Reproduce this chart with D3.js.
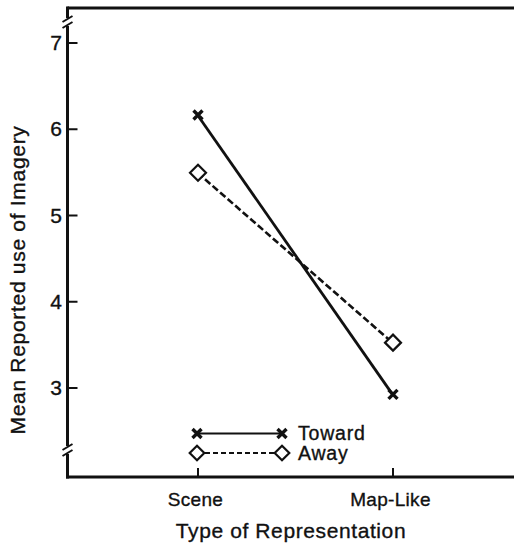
<!DOCTYPE html>
<html><head><meta charset="utf-8">
<script src="https://cdn.jsdelivr.net/npm/d3@7"></script>
<style>body{margin:0;background:#fff}svg{display:block}text{font-family:"Liberation Sans",Arial,sans-serif;fill:#111;stroke:#111;stroke-width:0.35px}</style>
</head><body><svg width="514" height="548"></svg>
<script>
const categories = ["Scene", "Map-Like"];
const towardValues = [6.16, 2.92];
const awayValues = [5.49, 3.52];
const yTicks = [3, 4, 5, 6, 7];
const seriesNames = ["Toward", "Away"];

(function () {
const svg = d3.select("svg");
const ink = "#111";
const pLeft = 67.5, pRight = 514, pTop = 8, pBottom = 477;
const x = d3.scalePoint().domain(categories).range([197.5, 392.5]);
const y = d3.scaleLinear().domain([3, 7]).range([387.5, 42.5]);

svg.append("line").attr("x1", pLeft).attr("x2", pRight).attr("y1", pTop).attr("y2", pTop).attr("stroke", ink).attr("stroke-width", 3);
svg.append("line").attr("x1", pLeft - 1.5).attr("x2", pRight).attr("y1", pBottom).attr("y2", pBottom).attr("stroke", ink).attr("stroke-width", 3);
svg.append("line").attr("x1", pLeft).attr("x2", pLeft).attr("y1", pTop - 1.5).attr("y2", pBottom + 1.5).attr("stroke", ink).attr("stroke-width", 3);

const yAxis = d3.axisRight(y).tickValues(yTicks).tickSize(10).tickFormat("");
const gy = svg.append("g").attr("transform", `translate(${pLeft},0)`).call(yAxis);
gy.select(".domain").remove();
gy.selectAll(".tick line").attr("stroke", ink).attr("stroke-width", 2);
svg.selectAll(".ylab").data(yTicks).join("text").attr("class", "ylab")
  .attr("x", 62).attr("y", d => y(d) + 7.5).attr("text-anchor", "end")
  .attr("font-size", 21).text(d => d);

const xAxis = d3.axisTop(x).tickSize(9).tickFormat("");
const gx = svg.append("g").attr("transform", `translate(0,${pBottom})`).call(xAxis);
gx.select(".domain").remove();
gx.selectAll(".tick line").attr("stroke", ink).attr("stroke-width", 2);
svg.selectAll(".xlab").data(categories).join("text").attr("class", "xlab")
  .attr("x", d => x(d) - 2).attr("y", 506).attr("text-anchor", "middle")
  .attr("font-size", 19).attr("letter-spacing", 0.3).text(d => d);

svg.append("text").attr("x", 291).attr("y", 538).attr("text-anchor", "middle").attr("font-size", 21).attr("letter-spacing", 0.6).text("Type of Representation");
svg.append("text").attr("transform", "translate(25,280) rotate(-90)").attr("text-anchor", "middle").attr("font-size", 21).attr("letter-spacing", 0.7).text("Mean Reported use of Imagery");

function brk(cy) {
  svg.append("rect").attr("x", pLeft - 4).attr("y", cy - 4).attr("width", 8).attr("height", 8).attr("fill", "#fff");
  [-3, 3].forEach(o => svg.append("line").attr("x1", pLeft - 5).attr("x2", pLeft + 5)
    .attr("y1", cy + o + 3).attr("y2", cy + o - 3).attr("stroke", ink).attr("stroke-width", 2));
}
brk(22); brk(450);

function cross(g, cx, cy) {
  const s = 4.5;
  g.append("path").attr("d", `M${cx - s},${cy - s}L${cx + s},${cy + s}M${cx - s},${cy + s}L${cx + s},${cy - s}`)
    .attr("stroke", ink).attr("stroke-width", 3.4).attr("fill", "none");
}
function diamond(g, cx, cy, r) {
  g.append("path").attr("d", `M${cx},${cy - r}L${cx + r},${cy}L${cx},${cy + r}L${cx - r},${cy}Z`)
    .attr("stroke", ink).attr("stroke-width", 2.2).attr("fill", "#fff");
}

const line = d3.line().x((d, i) => x(categories[i])).y(d => y(d));
svg.append("path").datum(awayValues).attr("d", line).attr("fill", "none").attr("stroke", ink).attr("stroke-width", 2.6).attr("stroke-dasharray", "7,3");
svg.append("path").datum(towardValues).attr("d", line).attr("fill", "none").attr("stroke", ink).attr("stroke-width", 2.8);
towardValues.forEach((v, i) => cross(svg, x(categories[i]) + 0.5, y(v)));
awayValues.forEach((v, i) => diamond(svg, x(categories[i]) + 0.5, y(v), 8));

const lg = svg.append("g");
const lx1 = 197, lx2 = 282;
lg.append("line").attr("x1", lx1).attr("x2", lx2).attr("y1", 433.5).attr("y2", 433.5).attr("stroke", ink).attr("stroke-width", 2);
lg.append("line").attr("x1", lx1).attr("x2", lx2).attr("y1", 453).attr("y2", 453).attr("stroke", ink).attr("stroke-width", 2).attr("stroke-dasharray", "5,3");
cross(lg, lx1, 433.5); cross(lg, lx2, 433.5);
diamond(lg, lx1, 453, 7.3); diamond(lg, lx2, 453, 7.3);
lg.append("text").attr("x", 298).attr("y", 439.5).attr("font-size", 19.5).attr("letter-spacing", 0.8).text(seriesNames[0]);
lg.append("text").attr("x", 298).attr("y", 460).attr("font-size", 19.5).attr("letter-spacing", 0.8).text(seriesNames[1]);
})();
</script></body></html>
